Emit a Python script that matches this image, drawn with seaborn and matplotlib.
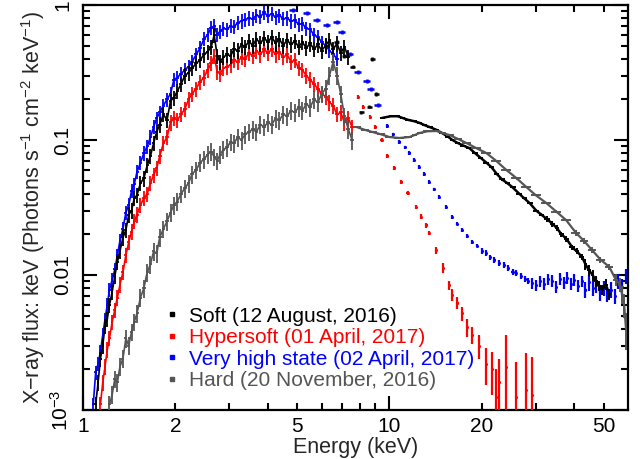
import numpy as np
import pandas as pd
import matplotlib
matplotlib.use("Agg")
import matplotlib.pyplot as plt
import seaborn as sns
from matplotlib.ticker import FixedLocator, FuncFormatter, LogLocator, NullFormatter
from matplotlib.lines import Line2D

sns.set_style("ticks")
plt.rcParams['font.family'] = ['Liberation Sans', 'DejaVu Sans']
plt.rcParams['mathtext.fontset'] = 'custom'
plt.rcParams['mathtext.rm'] = 'Liberation Sans'
plt.rcParams['mathtext.it'] = 'Liberation Sans:italic'
plt.rcParams['mathtext.bf'] = 'Liberation Sans:bold'

# ---------------- data ----------------
labels = ["Soft (12 August, 2016)", "Hypersoft (01 April, 2017)",
          "Very high state (02 April, 2017)", "Hard (20 November, 2016)"]
colors = ["#000000", "#ff0000", "#0000ff", "#555555"]

# Soft (black)
soft_lo_E = [1.10,1.12,1.14,1.16,1.18,1.20,1.22,1.245,1.27,1.295,1.32,1.35,1.38,1.41,1.44,1.47,1.50,1.54,1.58,1.62,
             1.66,1.70,1.74,1.78,1.83,1.88,1.93,1.98,2.03,2.09,2.15,2.21,2.27,2.34,2.41,2.48,2.55,2.62,2.68,2.74,
             2.80,2.87,2.95,3.03,3.11,3.20,3.29,3.38,3.48,3.58,3.68,3.79,3.90,4.01,4.13,4.25,4.37,4.50,4.63,4.77,
             4.91,5.05,5.20,5.35,5.51,5.67,5.84,6.01,6.19,6.37,6.55,6.74,6.93,7.13,7.34]
soft_lo_F = [0.0011,0.0016,0.0024,0.0030,0.0042,0.0047,0.0060,0.0075,0.0098,0.0125,0.0150,0.0190,0.0215,0.0280,0.0300,
             0.0370,0.0390,0.0480,0.0520,0.0650,0.0760,0.0950,0.1150,0.1300,0.1550,0.1400,0.1950,0.2050,0.2300,0.2600,
             0.3000,0.3150,0.3400,0.3700,0.3900,0.4300,0.4500,0.4900,0.6000,0.4200,0.3800,0.4100,0.4300,0.4200,0.4700,
             0.4600,0.5100,0.4900,0.5400,0.5000,0.5600,0.5200,0.5700,0.5300,0.5800,0.5200,0.5600,0.5000,0.5500,0.5100,
             0.5400,0.4900,0.5300,0.4800,0.5200,0.4700,0.5100,0.4600,0.5000,0.5500,0.4700,0.5200,0.4400,0.4900,0.4100]
soft_mid_E = [6.72, 7.13, 7.58, 8.10, 8.60, 8.80, 9.05]
soft_mid_F = [0.53, 0.42, 0.35, 0.16, 0.177, 0.40, 0.22]
soft_hi_E = [9.49,9.8,10.1,10.62,11.0,11.5,12.0,12.52,13.0,13.6,14.22,14.9,15.5,16.04,16.7,17.4,18.23,19.0,19.8,20.7,
             21.5,22.4,23.3,24.2,25.1,26.5,27.5,28.7,30.1,31.3,32.6,34.0,35.2,36.4,37.8,39.5,40.8,42.5,43.6,44.8,
             46.0,47.2,48.4,49.4,50.8,52.1]
soft_hi_F = [0.146,0.148,0.150,0.150,0.146,0.141,0.138,0.134,0.129,0.124,0.119,0.112,0.106,0.100,0.095,0.091,0.087,
             0.080,0.074,0.068,0.063,0.056,0.051,0.048,0.045,0.040,0.037,0.034,0.030,0.028,0.026,0.024,0.0222,0.0200,
             0.0185,0.0160,0.0150,0.0136,0.0120,0.0108,0.0100,0.0090,0.0083,0.0078,0.0085,0.0072]
soft_hi_err = [0.01]*20 + [0.02]*10 + [0.05]*8 + [0.09]*8

# Hypersoft (red)
hyper_lo_E = [1.14,1.16,1.18,1.20,1.22,1.245,1.27,1.295,1.32,1.35,1.38,1.41,1.44,1.47,1.50,1.54,1.58,1.62,1.66,1.70,
              1.74,1.78,1.83,1.88,1.93,1.98,2.03,2.09,2.15,2.21,2.27,2.34,2.41,2.48,2.55,2.62,2.68,2.74,2.80,2.87,
              2.95,3.03,3.11,3.20,3.29,3.38,3.48,3.58,3.68,3.79,3.90,4.01,4.13,4.25,4.37,4.50,4.63,4.77,4.91,5.05,
              5.20,5.35,5.51,5.67,5.84,6.01,6.19,6.37,6.55,6.74,6.93,7.13,7.34,7.55]
hyper_lo_F = [0.0011,0.0016,0.0021,0.0028,0.0034,0.0045,0.0055,0.0068,0.0085,0.0105,0.0140,0.0175,0.0210,0.0250,0.0280,
              0.0330,0.0370,0.0400,0.0480,0.0550,0.0620,0.0760,0.0950,0.1050,0.1350,0.1450,0.1400,0.1550,0.1700,0.2000,
              0.2200,0.2400,0.2700,0.2900,0.3300,0.3700,0.4200,0.3200,0.3100,0.3400,0.3500,0.3600,0.3900,0.3800,0.4100,
              0.4000,0.4400,0.4200,0.4600,0.4300,0.4700,0.4400,0.4700,0.4300,0.4500,0.4100,0.4300,0.3800,0.3900,0.3400,
              0.3300,0.3000,0.2800,0.2600,0.2400,0.2200,0.2100,0.1900,0.1800,0.1550,0.1600,0.1350,0.1450,0.1250]
hyper_hi_E = [7.87,8.17,8.61,9.0,9.42,9.85,10.38,10.94,11.45,12.24,12.7,13.2,13.49,14.22,14.9,15.68,16.04,16.66,
              17.29,17.95,18.63,19.64,20.7,21.66,22.3,22.81,24.05,25.92,27.93,29.23]
hyper_hi_F = [0.208,0.1755,0.148,0.125,0.100,0.076,0.0621,0.0489,0.0405,0.0319,0.0270,0.0233,0.0205,0.0153,0.0113,
              0.0084,0.0071,0.0062,0.0052,0.0041,0.0036,0.0030,0.0022,0.0020,0.00125,0.0016,0.0021,0.00125,0.0014,0.0013]
hyper_hi_err = [0.04]*13 + [0.06,0.08,0.08,0.10,0.10,0.12,0.15,0.15,0.20,0.30,0.35,0.6,0.5,0.7,0.8,0.9,0.9]

# Very high state (blue)
vhs_lo_E = [1.08,1.10,1.12,1.14,1.16,1.18,1.20,1.22,1.245,1.27,1.295,1.32,1.35,1.38,1.41,1.44,1.47,1.50,1.54,1.58,
            1.62,1.66,1.70,1.74,1.78,1.83,1.88,1.93,1.98,2.03,2.09,2.15,2.21,2.27,2.34,2.41,2.48,2.55,2.62,2.68,
            2.74,2.80,2.87,2.95,3.03,3.11,3.20,3.29,3.38,3.48,3.58,3.68,3.79,3.90,4.01,4.13,4.25,4.37,4.50,4.63,
            4.77,4.91,5.05,5.20,5.35,5.51,5.67,5.84,6.01,6.19,6.37,6.55,6.74]
vhs_lo_F = [0.0011,0.0019,0.0022,0.0027,0.0036,0.0047,0.0060,0.0078,0.0092,0.0110,0.0140,0.0180,0.0220,0.0290,0.0330,
            0.0420,0.0470,0.0580,0.0680,0.0800,0.0900,0.1050,0.1250,0.1450,0.1600,0.1800,0.2000,0.2200,0.2800,0.2900,
            0.3100,0.3300,0.3500,0.3800,0.4300,0.4800,0.5600,0.6000,0.6800,0.7000,0.6000,0.6400,0.6700,0.6600,0.7000,
            0.6900,0.7400,0.7600,0.7800,0.8000,0.7900,0.8400,0.8200,0.8800,0.8300,0.8600,0.8100,0.8400,0.7900,0.8000,
            0.7600,0.7700,0.7200,0.7300,0.6700,0.6600,0.6000,0.5800,0.5300,0.5000,0.4600,0.4300,0.4000]
vhs_mid_E = [4.83,5.37,5.78,6.24,6.72,6.98,7.41,7.87,8.42,8.67,9.14]
vhs_mid_F = [0.918,0.872,0.774,0.711,0.748,0.631,0.434,0.319,0.2735,0.239,0.1816]
vhs_hi_E = [9.85,10.3,10.78,11.2,11.62,12.05,12.52,13.0,13.49,14.0,14.55,15.3,16.04,16.6,17.29,17.9,18.63,19.3,20.0,
            20.7,21.3,22.0,22.8,23.6,24.4,25.2,25.9,26.8,27.6,28.4,29.2,30.1,31.0,32.0,33.0,34.0,35.0,36.0,37.0,
            38.0,39.0,40.1,41.2,42.4,43.6,44.8,46.0,47.3,48.6,50.0,51.4,52.8,54.3,55.8,57.4,59.0]
vhs_hi_F = [0.127,0.110,0.0966,0.088,0.0801,0.071,0.0631,0.056,0.0489,0.043,0.0378,0.032,0.0269,0.0240,0.0216,0.0195,
            0.0176,0.0165,0.0150,0.0146,0.0135,0.0130,0.0123,0.0118,0.0112,0.0106,0.0103,0.0098,0.0094,0.0090,0.0087,
            0.0084,0.0090,0.0086,0.0093,0.0091,0.0082,0.0094,0.0088,0.0095,0.0086,0.0092,0.0083,0.0090,0.0078,0.0088,
            0.0080,0.0085,0.0074,0.0080,0.0072,0.0078,0.0070,0.0090,0.0082,0.0098]
vhs_hi_err = [0.03]*18 + [0.05]*12 + [0.10]*14 + [0.13]*12

# Hard (grey)
hard_lo_E = [1.22,1.245,1.27,1.295,1.32,1.35,1.38,1.41,1.44,1.47,1.50,1.54,1.58,1.62,1.66,1.70,1.74,1.78,1.83,1.88,
             1.93,1.98,2.03,2.09,2.15,2.21,2.27,2.34,2.41,2.48,2.55,2.62,2.68,2.74,2.80,2.87,2.95,3.03,3.11,3.20,
             3.29,3.38,3.48,3.58,3.68,3.79,3.90,4.01,4.13,4.25,4.37,4.50,4.63,4.77,4.91,5.05,5.20,5.35,5.51,5.67,
             5.84,6.01,6.19,6.37,6.55,6.74,6.93,7.13,7.34,7.55]
hard_lo_F = [0.0011,0.0013,0.0017,0.0016,0.0021,0.0024,0.0034,0.0030,0.0038,0.0045,0.0052,0.0068,0.0080,0.0105,0.0120,
             0.0150,0.0145,0.0190,0.0220,0.0250,0.0290,0.0330,0.0350,0.0400,0.0440,0.0480,0.0560,0.0600,0.0680,0.0720,
             0.0780,0.0820,0.0750,0.0700,0.0780,0.0850,0.0880,0.0970,0.0950,0.1050,0.1000,0.1100,0.1150,0.1200,0.1150,
             0.1300,0.1250,0.1350,0.1300,0.1450,0.1400,0.1550,0.1500,0.1650,0.1600,0.1750,0.1650,0.1850,0.1750,0.2000,
             0.1900,0.2200,0.2400,0.3000,0.3800,0.3000,0.2200,0.1500,0.1200,0.1000]
hard_hi_E = [7.81,8.3,8.8,9.4,10.0,10.78,11.62,12.1,12.52,13.3,14.22,15.0,15.68,16.7,17.82,19.2,20.7,22.3,24.05,
             26.0,27.93,30.0,32.5,35.0,37.7,40.6,43.0,45.8,48.8,52.1,54.8,56.5,57.4,58.3,59.1]
hard_hi_F = [0.1248,0.119,0.1146,0.110,0.1052,0.1035,0.1052,0.109,0.1127,0.116,0.1166,0.112,0.1089,0.102,0.095,0.087,
             0.0801,0.070,0.060,0.052,0.0449,0.039,0.0341,0.0295,0.0255,0.0205,0.018,0.0153,0.013,0.0115,0.0092,
             0.0085,0.0072,0.0060,0.0040]
hard_hi_err = [0.01]*17 + [0.02]*8 + [0.05]*5 + [0.10,0.12,0.15,0.2,0.3]

# ---------------- drawing ----------------
fig = plt.figure(figsize=(6.4, 4.59), dpi=100)
ax = fig.add_axes([83/640, 1-410/459, 545/640, 405/459])
ax.set_xscale('log')
ax.set_yscale('log')


def contiguous_xerr(E):
    E = np.asarray(E, float)
    edges = np.sqrt(E[:-1] * E[1:])
    left = np.r_[E[0] ** 2 / edges[0], edges]
    right = np.r_[edges, E[-1] ** 2 / edges[-1]]
    return np.vstack([E - left, right - E])


def yerr_of(F, rel):
    F = np.asarray(F, float)
    rel = np.broadcast_to(np.asarray(rel, float), F.shape)
    lo = np.minimum(F * rel, F * 0.999)
    hi = F * rel
    return np.vstack([lo, hi])


def rel_xerr(E, frac):
    E = np.asarray(E, float)
    return np.vstack([E * frac, E * frac])


def draw(E, F, rel, color, z, xerr=None, lw=1.3, marker=False, connect=False, clw=1.2):
    df = pd.DataFrame({"E": E, "F": F})
    if xerr is None:
        xerr = contiguous_xerr(E)
    ax.errorbar(df["E"], df["F"], xerr=xerr, yerr=yerr_of(F, rel), fmt='none',
                ecolor=color, elinewidth=lw, capsize=0, zorder=z)
    if connect:
        sns.lineplot(data=df, x="E", y="F", ax=ax, color=color, lw=clw,
                     estimator=None, sort=False, zorder=z, legend=False)
    if marker:
        sns.scatterplot(data=df, x="E", y="F", ax=ax, color=color, s=5,
                        linewidth=0, zorder=z, legend=False)

# blue
draw(vhs_lo_E, vhs_lo_F, 0.12, colors[2], 2, connect=True)
draw(vhs_mid_E, vhs_mid_F, 0.03, colors[2], 2, xerr=rel_xerr(vhs_mid_E, 0.025), lw=1.8)
draw(vhs_hi_E, vhs_hi_F, vhs_hi_err, colors[2], 2, xerr=rel_xerr(vhs_hi_E, 0.008), lw=1.6, marker=True)
# red
draw(hyper_lo_E, hyper_lo_F, 0.13, colors[1], 3, connect=True)
draw(hyper_hi_E, hyper_hi_F, hyper_hi_err, colors[1], 3, xerr=rel_xerr(hyper_hi_E, 0.008), lw=1.6, marker=True)
# black
draw(soft_lo_E, soft_lo_F, 0.13, colors[0], 4, connect=True)
draw(soft_mid_E, soft_mid_F, 0.03, colors[0], 4, xerr=rel_xerr(soft_mid_E, 0.02), lw=1.8)
draw(soft_hi_E, soft_hi_F, soft_hi_err, colors[0], 4, lw=1.4, connect=True, clw=1.8)
# grey
draw(hard_lo_E, hard_lo_F, 0.15, colors[3], 5, connect=True)
draw(hard_hi_E, hard_hi_F, hard_hi_err, colors[3], 5, lw=1.4, connect=True, clw=1.6)

ax.set_xlim(1, 60)
ax.set_ylim(1e-3, 1)

# ticks
ax.xaxis.set_major_locator(FixedLocator([1, 10]))
ax.xaxis.set_minor_locator(FixedLocator([2, 3, 4, 5, 6, 7, 8, 9, 20, 30, 40, 50]))
ax.xaxis.set_major_formatter(FuncFormatter(lambda v, p: f"{v:g}"))
ax.xaxis.set_minor_formatter(FuncFormatter(lambda v, p: f"{v:g}" if round(v) in (2, 5, 20, 50) else ""))
ax.yaxis.set_major_locator(FixedLocator([1e-3, 1e-2, 1e-1, 1]))
ax.yaxis.set_minor_locator(LogLocator(base=10, subs=np.arange(2, 10)))
ax.yaxis.set_minor_formatter(NullFormatter())
ylabs = {1e-3: r"10$^{-3}$", 1e-2: "0.01", 1e-1: "0.1", 1: "1"}
ax.yaxis.set_major_formatter(FuncFormatter(
    lambda v, p: min(ylabs.items(), key=lambda kv: abs(np.log10(kv[0]) - np.log10(v)))[1]))

ax.tick_params(which='both', direction='in', top=True, right=True, width=1.5, labelsize=15, colors='black')
ax.tick_params(which='major', length=10)
ax.tick_params(which='minor', length=5)
ax.tick_params(axis='x', which='both', pad=5)
ax.tick_params(axis='y', which='both', pad=8)
for lab in ax.get_yticklabels():
    lab.set_rotation(90)
    lab.set_va('center')
for sp in ax.spines.values():
    sp.set_linewidth(1.6)
    sp.set_color('black')

ax.set_xlabel("Energy (keV)", fontsize=15.5, labelpad=1)
ax.set_ylabel("X\u2212ray flux: keV (Photons s$^{-1}$ cm$^{-2}$ keV$^{-1}$)", fontsize=15.5, labelpad=2)

handles = [Line2D([], [], ls='none', marker='s', ms=2.5, color=c) for c in colors]
leg = ax.legend(handles, labels, loc='upper left', bbox_to_anchor=(0.152, 0.255), frameon=False,
                fontsize=15, handlelength=0.6, handletextpad=0.5, labelspacing=0.12,
                borderpad=0, borderaxespad=0, labelcolor=colors)

fig.savefig("out.png", dpi=100)
